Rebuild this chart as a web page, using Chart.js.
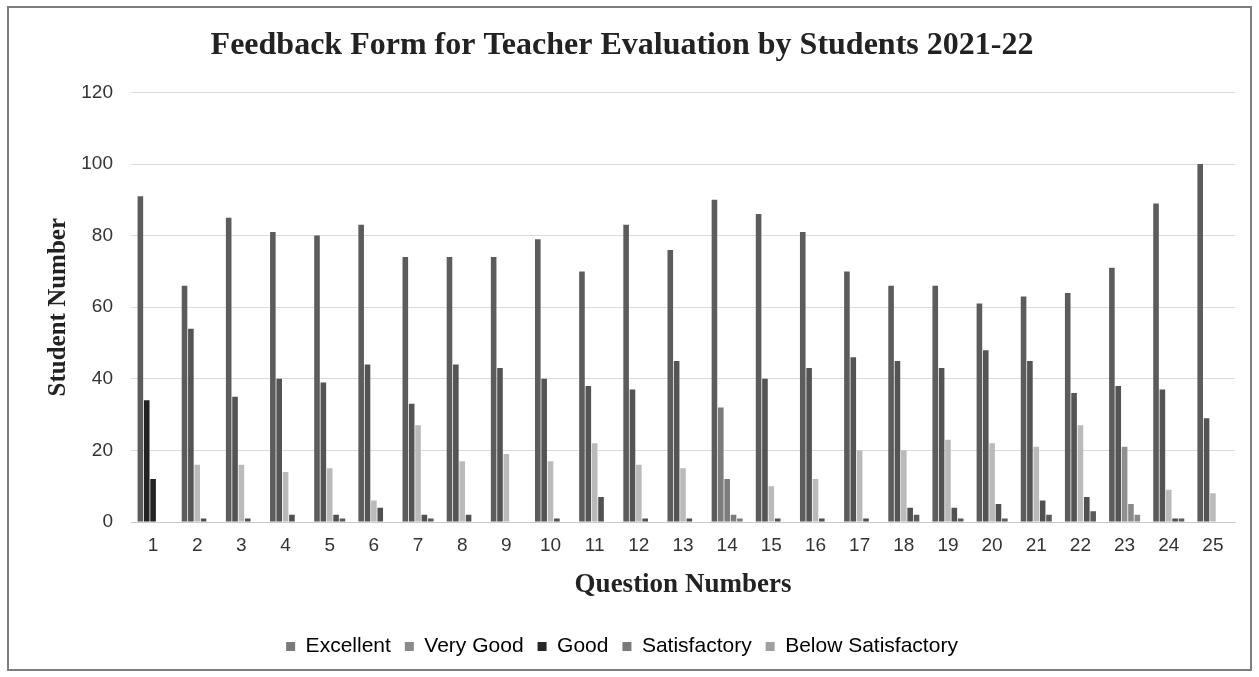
<!DOCTYPE html>
<html>
<head>
<meta charset="utf-8">
<script src="https://cdn.jsdelivr.net/npm/chart.js@4/dist/chart.umd.min.js"></script>
<style>
  body { margin: 0; background: #fff; }
  #frame {
    position: absolute; left: 7px; top: 6px;
    width: 1241px; height: 661px;
    border: 2px solid #7d7d7d;
  }
</style>
</head>
<body>
<div id="frame"><canvas id="chart" width="1241" height="661"></canvas></div>
<script>
const questions = ["1","2","3","4","5","6","7","8","9","10","11","12","13","14","15","16","17","18","19","20","21","22","23","24","25"];
const excellent = [91, 66, 85, 81, 80, 83, 74, 74, 74, 79, 70, 83, 76, 90, 86, 81, 70, 66, 66, 61, 63, 64, 71, 89, 100];
const veryGood = [34, 54, 35, 40, 39, 44, 33, 44, 43, 40, 38, 37, 45, 32, 40, 43, 46, 45, 43, 48, 45, 36, 38, 37, 29];
const good = [12, 16, 16, 14, 15, 6, 27, 17, 19, 17, 22, 16, 15, 12, 10, 12, 20, 20, 23, 22, 21, 27, 21, 9, 8];
const satisfactory = [0, 1, 1, 2, 2, 4, 2, 2, 0, 1, 7, 1, 1, 2, 1, 1, 1, 4, 4, 5, 6, 7, 5, 1, 0];
const belowSatisfactory = [0, 0, 0, 0, 1, 0, 1, 0, 0, 0, 0, 0, 0, 1, 0, 0, 0, 2, 1, 1, 2, 3, 2, 1, 0];
const yTicks = [0, 20, 40, 60, 80, 100, 120];

// scanned colours: a few groups came out darker / lighter than the rest
function shade(base, special) {
  return questions.map((q, i) => special[i + 1] || base);
}

const legendColors = ["#7a7a7a", "#8a8a8a", "#262626", "#7a7a7a", "#a0a0a0"];

const ctx = document.getElementById("chart").getContext("2d");
new Chart(ctx, {
  type: "bar",
  data: {
    labels: questions,
    datasets: [
      { label: "Excellent", data: excellent, backgroundColor: "#5c5c5c" },
      { label: "Very Good", data: veryGood, backgroundColor: shade("#545454", { 1: "#222222", 14: "#7c7c7c" }) },
      { label: "Good", data: good, backgroundColor: shade("#bababa", { 1: "#222222", 14: "#7c7c7c", 23: "#8f8f8f" }) },
      { label: "Satisfactory", data: satisfactory, backgroundColor: shade("#505050", { 14: "#7c7c7c", 23: "#8a8a8a" }) },
      { label: "Below Satisfactory", data: belowSatisfactory, backgroundColor: shade("#5a5a5a", { 14: "#7c7c7c", 23: "#8a8a8a" }) }
    ]
  },
  options: {
    responsive: false,
    animation: false,
    layout: { padding: { left: 0, right: 15, top: 4, bottom: 2 } },
    datasets: { bar: { categoryPercentage: 0.72, barPercentage: 0.88 } },
    plugins: {
      title: {
        display: true,
        text: "Feedback Form for Teacher Evaluation by Students 2021-22",
        color: "#222",
        font: { family: "'Liberation Serif', 'Times New Roman', serif", size: 32, weight: "bold" },
        padding: { top: 15, bottom: 27 }
      },
      legend: {
        position: "bottom",
        labels: {
          color: "#333",
          font: { family: "'Liberation Sans', Arial, sans-serif", size: 21 },
          boxWidth: 9,
          boxHeight: 9,
          padding: 14,
          generateLabels: (chart) => chart.data.datasets.map((ds, i) => ({
            text: ds.label,
            fillStyle: legendColors[i],
            strokeStyle: legendColors[i],
            lineWidth: 0,
            datasetIndex: i,
            hidden: false
          }))
        }
      },
      tooltip: { enabled: false }
    },
    scales: {
      x: {
        grid: { display: false, drawTicks: false },
        border: { display: true, color: "#c8c8c8", width: 1 },
        ticks: {
          color: "#333",
          padding: 12,
          font: { family: "'Liberation Sans', Arial, sans-serif", size: 19 }
        },
        title: {
          display: true,
          text: "Question Numbers",
          color: "#222",
          font: { family: "'Liberation Serif', 'Times New Roman', serif", size: 27, weight: "bold" },
          padding: { top: 10, bottom: 21 }
        },
        afterFit: (scale) => { scale.height = 100; }
      },
      y: {
        min: 0,
        max: 120,
        afterBuildTicks: (scale) => { scale.ticks = yTicks.map(v => ({ value: v })); },
        grid: { color: "#d9d9d9", drawTicks: false },
        border: { display: false },
        ticks: {
          color: "#333",
          padding: 18,
          font: { family: "'Liberation Sans', Arial, sans-serif", size: 19 }
        },
        title: {
          display: true,
          text: "Student Number",
          color: "#222",
          font: { family: "'Liberation Serif', 'Times New Roman', serif", size: 25, weight: "bold" },
          padding: { top: 35, bottom: 0 }
        },
        afterFit: (scale) => { scale.width = 122; }
      }
    }
  }
});
</script>
</body>
</html>
